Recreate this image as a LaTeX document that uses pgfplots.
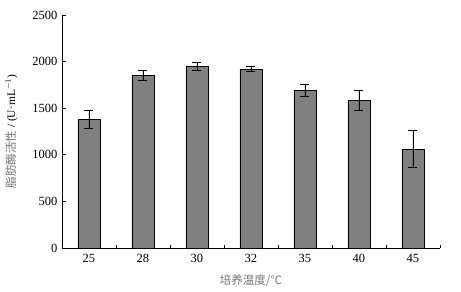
\documentclass[border=0pt]{standalone}
\usepackage{fontspec}
\setmainfont{Liberation Serif}
\newfontfamily\cjk{Noto Sans CJK SC}
\usepackage{pgfplots}
\pgfplotsset{compat=1.18}
\begin{document}
\begin{tikzpicture}
\path[use as bounding box] (0pt,0pt) rectangle (461pt,292pt);
\begin{axis}[
  at={(62pt,44pt)}, anchor=south west,
  scale only axis, width=378pt, height=233pt,
  axis lines*=left,
  axis line style={black, line width=0.9pt},
  xmin=-0.5, xmax=6.5, ymin=0, ymax=2500,
  xtick={0,1,2,3,4,5,6},
  xticklabels={25,28,30,32,35,40,45},
  minor xtick={0.5,1.5,2.5,3.5,4.5,5.5,6.5},
  major x tick style={draw=none},
  minor x tick style={black, line width=0.8pt},
  minor tick length=3pt,
  ytick={0,500,1000,1500,2000,2500},
  major tick length=4pt,
  y tick style={black, line width=0.8pt},
  tick align=inside,
  scaled y ticks=false,
  /pgf/number format/assume math mode=true,
  yticklabel style={/pgf/number format/1000 sep={}, font=\fontsize{12.5}{12.5}\selectfont, xshift=-1pt},
  xticklabel style={font=\fontsize{12.5}{12.5}\selectfont, yshift=-3pt},
  ylabel={{\cjk\color{black!55}脂肪酶活性} / (U·mL$^{-1}$)},
  ylabel style={font=\fontsize{11.5}{12}\selectfont, at={(axis description cs:0,0.5)}, anchor=south, yshift=41pt},
  xlabel={\cjk\color{black!55}培养温度/℃},
  xlabel style={font=\fontsize{11.5}{12}\selectfont, yshift=-5pt},
]
\addplot[ybar, bar width=22pt, fill=black!50, draw=black, line width=0.8pt,
  error bars/.cd, y dir=both, y explicit,
  error bar style={black, line width=0.9pt},
  error mark options={rotate=90, mark size=4.5pt, line width=0.9pt, black}]
coordinates {
  (0,1380) +- (0,95)
  (1,1850) +- (0,50)
  (2,1947) +- (0,43)
  (3,1920) +- (0,27)
  (4,1692) +- (0,63)
  (5,1585) +- (0,107)
  (6,1062) +- (0,197)
};
\end{axis}
\end{tikzpicture}
\end{document}
